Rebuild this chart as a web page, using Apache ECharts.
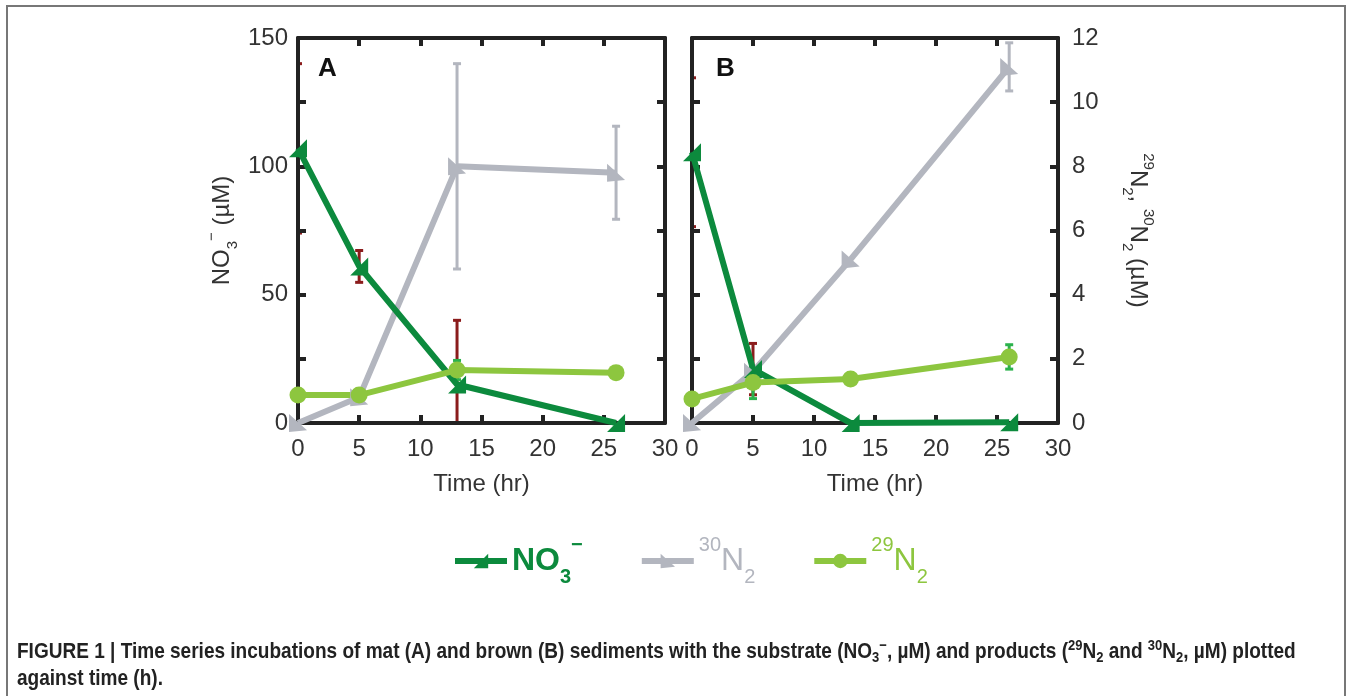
<!DOCTYPE html>
<html>
<head>
<meta charset="utf-8">
<script src="https://cdn.jsdelivr.net/npm/echarts@6/dist/echarts.min.js"></script>
<style>
  html, body { margin: 0; padding: 0; background: #fff; }
  #chart { width: 1350px; height: 696px; }
</style>
</head>
<body>
<div id="chart"></div>
<script>
// sampling times (hr)
var times = [0, 5, 13, 26];
// panel A (mat): NO3- on left axis (uM), N2 on right axis (uM)
var no3A = [107, 61, 15, 0];
var no3AErr = [33, 6.2, 25, 0];
var n30A = [0, 0.8, 8.0, 7.8];
var n30AErr = [0, 0, 3.2, 1.45];
var n29A = [0.87, 0.87, 1.65, 1.57];
var n29AErr = [0, 0, 0.3, 0.12];
// panel B (brown)
var no3B = [105.5, 21, 0, 0.3];
var no3BErr = [29, 10, 0, 0];
var n30B = [0, 1.6, 5.1, 11.1];
var n30BErr = [0, 0, 0, 0.75];
var n29B = [0.75, 1.26, 1.37, 2.06];
var n29BErr = [0, 0.5, 0, 0.38];

var leftTicks = [0, 50, 100, 150];
var rightTicks = [0, 2, 4, 6, 8, 10, 12];

var cNO3 = '#0c8a3d', cN30 = '#b3b6bf', cN29 = '#8dc63f';
var cErrNO3 = '#8b1c1c', cErrN29 = '#2bb24c';
var axisCol = '#222', labCol = '#333';
var font = 'Liberation Sans';

var triNO3 = 'path://M0,10 L10,0 L10,10 Z';
var triN30 = 'path://M0,0 L0,10 L10,9 Z';

var myChart = echarts.init(document.getElementById('chart'));

function pairs(vals) {
    return times.map(function (t, i) { return [t, vals[i]]; });
}
function errData(vals, errs) {
    var out = [];
    times.forEach(function (t, i) {
        if (errs[i] > 0) out.push([t, vals[i] - errs[i], vals[i] + errs[i]]);
    });
    return out;
}
function errSeries(grid, yIdx, vals, errs, color) {
    return {
        type: 'custom',
        xAxisIndex: grid * 2,
        yAxisIndex: grid * 2 + yIdx,
        clip: true,
        z: -1,
        silent: true,
        data: errData(vals, errs),
        renderItem: function (params, api) {
            var lo = api.coord([api.value(0), api.value(1)]);
            var hi = api.coord([api.value(0), api.value(2)]);
            var w = 4;
            var st = { stroke: color, lineWidth: 3 };
            return {
                type: 'group',
                children: [
                    { type: 'line', shape: { x1: lo[0], y1: lo[1], x2: hi[0], y2: hi[1] }, style: st },
                    { type: 'line', shape: { x1: lo[0] - w, y1: lo[1], x2: lo[0] + w, y2: lo[1] }, style: st },
                    { type: 'line', shape: { x1: hi[0] - w, y1: hi[1], x2: hi[0] + w, y2: hi[1] }, style: st }
                ]
            };
        }
    };
}
function lineSeries(name, grid, yIdx, vals, color, symbol, size) {
    return {
        name: name,
        type: 'line',
        xAxisIndex: grid * 2,
        yAxisIndex: grid * 2 + yIdx,
        data: pairs(vals),
        symbol: symbol,
        symbolSize: size,
        showAllSymbol: true,
        lineStyle: { color: color, width: 6 },
        itemStyle: { color: color },
        z: 3
    };
}

function xAxes(grid) {
    var base = {
        type: 'value', gridIndex: grid, min: 0, max: 30, interval: 5,
        axisLine: { show: true, onZero: false, lineStyle: { color: axisCol, width: 4 } },
        axisTick: { show: true, inside: true, length: 8, lineStyle: { color: axisCol, width: 4 } },
        splitLine: { show: false }
    };
    var bottom = Object.assign({}, base, {
        position: 'bottom',
        name: 'Time (hr)', nameLocation: 'middle', nameGap: 49,
        nameTextStyle: { fontSize: 24, color: labCol, fontFamily: font },
        axisLabel: { fontSize: 24, color: labCol, margin: 14, fontFamily: font }
    });
    var top = Object.assign({}, base, { position: 'top', axisLabel: { show: false } });
    return [bottom, top];
}
function yAxisBase(grid, pos, min, max, interval) {
    return {
        type: 'value', gridIndex: grid, position: pos, min: min, max: max, interval: interval,
        axisLine: { show: true, onZero: false, lineStyle: { color: axisCol, width: 4 } },
        axisTick: { show: true, inside: true, length: 8, lineStyle: { color: axisCol, width: 4 } },
        splitLine: { show: false },
        axisLabel: { show: false }
    };
}

// rich styles for sub/superscripts in axis names
var axisRich = {
    m: { fontSize: 24, color: labCol, fontFamily: font, lineHeight: 36 },
    sub: { fontSize: 15, color: labCol, fontFamily: font, verticalAlign: 'bottom', lineHeight: 36 },
    sup: { fontSize: 15, color: labCol, fontFamily: font, verticalAlign: 'top', lineHeight: 36 }
};

var yA0 = yAxisBase(0, 'left', 0, 150, 25);
yA0.axisLabel = {
    show: true, fontSize: 24, color: labCol, margin: 10, fontFamily: font,
    formatter: function (v) { return leftTicks.indexOf(v) >= 0 ? String(v) : ''; }
};
yA0.name = '{m|NO}{sub|3}{sup|\u2212}{m| (\u00B5M)}';
yA0.nameLocation = 'middle';
yA0.nameGap = 58;
yA0.nameRotate = 90;
yA0.nameTextStyle = { fontSize: 24, color: labCol, fontFamily: font, rich: axisRich };
var yA1 = yAxisBase(0, 'right', 0, 12, 2);
var yB0 = yAxisBase(1, 'left', 0, 150, 25);
var yB1 = yAxisBase(1, 'right', 0, 12, 2);
yB1.axisLabel = {
    show: true, fontSize: 24, color: labCol, margin: 14, fontFamily: font,
    formatter: function (v) { return rightTicks.indexOf(v) >= 0 ? String(v) : ''; }
};
yB1.name = '{sup|29}{m|N}{sub|2}{m|, }{sup|30}{m|N}{sub|2}{m| (\u00B5M)}';
yB1.nameLocation = 'middle';
yB1.nameGap = 62;
yB1.nameRotate = -90;
yB1.nameTextStyle = { fontSize: 24, color: labCol, fontFamily: font, rich: axisRich };

var nameNO3 = 'NO3', nameN30 = '30N2', nameN29 = '29N2';
var legendText = {};
legendText[nameNO3] = '{gm|NO}{gs|3}{gp|\u2212}';
legendText[nameN30] = '{yp|30}{ym|N}{ys|2}';
legendText[nameN29] = '{lp|29}{lm|N}{ls|2}';

function richSet(prefix, color, weight) {
    var r = {};
    r[prefix + 'm'] = { fontSize: 32, color: color, fontWeight: weight, fontFamily: font, lineHeight: 52 };
    r[prefix + 's'] = { fontSize: 20, color: color, fontWeight: weight, fontFamily: font, verticalAlign: 'bottom', lineHeight: 52 };
    r[prefix + 'p'] = { fontSize: 20, color: color, fontWeight: weight, fontFamily: font, verticalAlign: 'top', lineHeight: 52 };
    return r;
}
var legendRich = Object.assign({}, richSet('g', cNO3, 'bold'), richSet('y', cN30, 'normal'), richSet('l', cN29, 'normal'));

var captionRich = {
    b: { fontSize: 22, fontWeight: 'bold', fill: '#222', fontFamily: font, lineHeight: 27 },
    s: { fontSize: 15, fontWeight: 'bold', fill: '#222', fontFamily: font, verticalAlign: 'bottom', lineHeight: 27 },
    p: { fontSize: 15, fontWeight: 'bold', fill: '#222', fontFamily: font, verticalAlign: 'top', lineHeight: 27 }
};

option = {
    backgroundColor: '#fff',
    animation: false,
    grid: [
        { left: 298, top: 38, width: 367, height: 385 },
        { left: 692, top: 38, width: 366, height: 385 }
    ],
    xAxis: xAxes(0).concat(xAxes(1)),
    yAxis: [yA0, yA1, yB0, yB1],
    legend: {
        top: 530,
        left: 447,
        itemGap: 56,
        itemWidth: 52,
        itemHeight: 18,
        lineStyle: { width: 6 },
        textStyle: { fontSize: 32, fontFamily: font, rich: legendRich },
        formatter: function (name) { return legendText[name]; },
        data: [nameNO3, nameN30, nameN29]
    },
    graphic: [
        { type: 'rect', shape: { x: 7, y: 6, width: 1338, height: 700 }, style: { fill: null, stroke: '#777', lineWidth: 2 }, silent: true },
        { type: 'text', left: 318, top: 56, style: { text: 'A', fontSize: 26, fontWeight: 'bold', fill: '#111', fontFamily: font } },
        { type: 'text', left: 716, top: 56, style: { text: 'B', fontSize: 26, fontWeight: 'bold', fill: '#111', fontFamily: font } },
        { type: 'text', x: 17, y: 638, scaleX: 0.865, style: {
            text: '{b|FIGURE 1 | Time series incubations of mat (A) and brown (B) sediments with the substrate (NO}{s|3}{p|\u2212}{b|, \u00B5M) and products (}{p|29}{b|N}{s|2}{b| and }{p|30}{b|N}{s|2}{b|, \u00B5M) plotted}\n{b|against time (h).}',
            rich: captionRich, fontSize: 22, fontWeight: 'bold', fill: '#222', fontFamily: font, lineHeight: 27
        } }
    ],
    series: [
        errSeries(0, 1, n30A, n30AErr, cN30),
        errSeries(0, 0, no3A, no3AErr, cErrNO3),
        errSeries(0, 1, n29A, n29AErr, cErrN29),
        lineSeries(nameN30, 0, 1, n30A, cN30, triN30, 18),
        lineSeries(nameNO3, 0, 0, no3A, cNO3, triNO3, 18),
        lineSeries(nameN29, 0, 1, n29A, cN29, 'circle', 17),
        errSeries(1, 1, n30B, n30BErr, cN30),
        errSeries(1, 0, no3B, no3BErr, cErrNO3),
        errSeries(1, 1, n29B, n29BErr, cErrN29),
        lineSeries(nameN30, 1, 1, n30B, cN30, triN30, 18),
        lineSeries(nameNO3, 1, 0, no3B, cNO3, triNO3, 18),
        lineSeries(nameN29, 1, 1, n29B, cN29, 'circle', 17)
    ]
};
myChart.setOption(option);
</script>
</body>
</html>
